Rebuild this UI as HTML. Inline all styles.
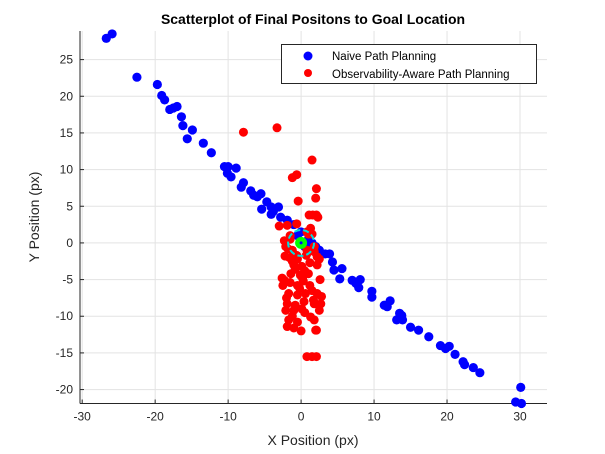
<!DOCTYPE html>
<html><head><meta charset="utf-8">
<style>
html,body{margin:0;padding:0;background:#fff;}
svg{display:block;font-family:"Liberation Sans",Arial,sans-serif;}
</style></head>
<body>
<svg id="chart" width="605" height="454" viewBox="0 0 605 454">
<rect x="0" y="0" width="605" height="454" fill="#fff"/>
<g id="grid"></g>
<g id="axes"></g>
<g id="naive"></g>
<g id="aware"></g>
<g id="goal"></g>
<text x="313" y="24" text-anchor="middle" font-size="14" font-weight="bold" fill="#000">Scatterplot of Final Positons to Goal Location</text>
<text x="313" y="445" text-anchor="middle" font-size="14" fill="#262626">X Position (px)</text>
<text transform="translate(39,217) rotate(-90)" text-anchor="middle" font-size="14" fill="#262626">Y Position (px)</text>
<g>
<rect x="281.5" y="44.5" width="255" height="39" fill="#fff" stroke="#262626" stroke-width="1"/>
<circle cx="308" cy="56" r="4.5" fill="#0000ff"/>
<text x="332" y="60" font-size="11.5" fill="#000">Naive Path Planning</text>
<circle cx="308" cy="73" r="4" fill="#ff0000"/>
<text x="332" y="78" font-size="11.5" fill="#000">Observability-Aware Path Planning</text>
</g>
</svg>
<script>
const xTicks=[-30,-20,-10,0,10,20,30];
const yTicks=[-20,-15,-10,-5,0,5,10,15,20,25];
const naiveX=[-26.7,-25.9,-22.5,-19.7,-19.1,-18.7,-18,-17.5,-17,-16.4,-16.2,-14.9,-15.6,-13.4,-12.3,-10.5,-10,-8.9,-10.1,-9.6,-7.9,-8.2,-6.9,-6.5,-5.5,-6,-4.7,-5.4,-4.1,-3.1,-3.8,-4.1,-2.8,-1.9,-1,0,-0.5,1,1.5,2,2.5,0.5,3.3,3.9,4.3,4.5,5.6,5.3,7,7.5,8.1,7.9,9.7,9.7,11.4,11.8,12.2,13.5,13.8,13.1,13.9,15,16.1,17.5,19.1,19.8,20.3,21.1,22.2,22.4,23.6,24.5,30.1,29.4,30.2];
const naiveY=[27.9,28.5,22.6,21.6,20.1,19.5,18.2,18.4,18.6,17.2,16,15.4,14.2,13.6,12.3,10.4,10.4,10.2,9.5,9,8.2,7.6,7.1,6.5,6.7,6.3,5.6,4.6,4.9,4.9,4.3,3.9,3.5,3.1,2.5,1.5,1,0.5,0,-0.5,-1,-0.5,-1.5,-1.5,-2.6,-3.7,-3.5,-4.9,-5.1,-5.5,-5,-6.1,-6.6,-7.4,-8.5,-8.7,-7.9,-9.6,-9.9,-10.5,-10.5,-11.5,-11.9,-12.8,-14,-14.4,-14.1,-15.2,-16.2,-16.6,-17,-17.7,-19.7,-21.7,-21.9];
const awareX=[1.5,-1.2,-0.6,2.1,2,-0.4,1.1,1.6,2.1,-3,-1.9,-0.6,1.3,-7.9,-3.3,-2.1,1.8,2.2,0.7,-0.6,-1,0.1,1.2,-1.4,-0.1,1,-2.3,-1.5,-0.5,0.3,1.2,-2.5,-1.7,-0.5,0.6,2.2,2.8,-1.9,-0.8,0.4,1.8,2.7,-2.1,-1,0.1,1.3,2.5,-1.7,-0.5,-1.9,-1,0,2.1,0.8,1.5,2.1,-2.3,1.7,2,-1.5,1,-1.2,0.8,-1.5,-1.8,0.8,1.5,-0.5,1.8,2.5,-1.2,0.5,-0.2,1.5,-2,0.5,-1.2,1.8,2.6,-2.6,2.3,-0.8,0.2,-1.6,2.2,-2.2,0.9];
const awareY=[11.3,8.9,9.3,7.4,6.1,5.7,3.8,3.8,3.8,2.3,2.4,2.6,2,15.1,15.7,-0.5,-0.5,-1.9,-1.7,-1.7,-3,-3.2,-2.7,-4.2,-4.4,-4.2,-5.1,-5.4,-5.8,-5.2,-5.8,-5.8,-6.9,-7.1,-6.9,-6.9,-7.3,-8.3,-8.5,-8,-8.3,-8.3,-9.2,-9.2,-9,-10.1,-9.2,-10.5,-10.8,-11.4,-11.6,-12,-11.9,-15.5,-15.5,-15.5,0.3,-7.8,-11.9,1,1.2,-1,-1,0.5,-0.8,1.5,1.2,-2.2,-1.2,-2.2,-2.5,-3.8,-6.2,-6.5,-7.5,-9.5,-10,-10.5,-5,-4.8,3.5,-3.6,-4.8,-2,-3,-1.8,-1.3];
const xMin=-30.3,xMax=33.7,yMin=-21.9,yMax=28.9;
const L=80,R=547,T=31,B=403.5;
const sx=v=>L+(v-xMin)/(xMax-xMin)*(R-L);
const sy=v=>B-(v-yMin)/(yMax-yMin)*(B-T);
const NS='http://www.w3.org/2000/svg';
function mk(tag,attrs,parent){const e=document.createElementNS(NS,tag);for(const k in attrs)e.setAttribute(k,attrs[k]);parent.appendChild(e);return e;}
const grid=document.getElementById('grid'),axes=document.getElementById('axes');
xTicks.forEach(t=>{const x=sx(t);
 const g=mk('line',{x1:x,x2:x,y1:T,y2:B,stroke:'#e3e3e3','stroke-width':1},grid);
 
 const tk=mk('line',{x1:x,x2:x,y1:B,y2:B-4,stroke:'#262626'},axes);
 
 const tx=mk('text',{x:x,y:B+17,'text-anchor':'middle','font-size':'12',fill:'#262626'},axes);tx.textContent=t;
 });
yTicks.forEach(t=>{const y=sy(t);
 const g=mk('line',{x1:L,x2:R,y1:y,y2:y,stroke:'#e3e3e3','stroke-width':1},grid);
 
 const tk=mk('line',{x1:L,x2:L+4,y1:y,y2:y,stroke:'#262626'},axes);
 
 const tx=mk('text',{x:L-7,y:y+4,'text-anchor':'end','font-size':'12',fill:'#262626'},axes);tx.textContent=t;
 });
const xa=mk('line',{x1:L,x2:R,y1:B,y2:B,stroke:'#262626'},axes);

const ya=mk('line',{x1:L,x2:L,y1:T,y2:B,stroke:'#262626'},axes);

const ng=document.getElementById('naive');
naiveX.forEach((v,i)=>{const c=mk('circle',{cx:sx(v),cy:sy(naiveY[i]),r:4.6,fill:'#0000ff'},ng);
 });
const ag=document.getElementById('aware');
awareX.forEach((v,i)=>{const c=mk('circle',{cx:sx(v),cy:sy(awareY[i]),r:4.5,fill:'#ff0000'},ag);
 });
const gg=document.getElementById('goal');
const ring=mk('circle',{cx:sx(0),cy:sy(0),r:13,fill:'none',stroke:'#00e0e0','stroke-width':2,'stroke-dasharray':'6 3'},gg);

const gc=mk('circle',{cx:sx(0),cy:sy(0),r:6,fill:'#00ff00'},gg);

const gd=mk('circle',{cx:sx(0),cy:sy(0),r:1.5,fill:'#0000ff'},gg);

</script>
</body></html>
